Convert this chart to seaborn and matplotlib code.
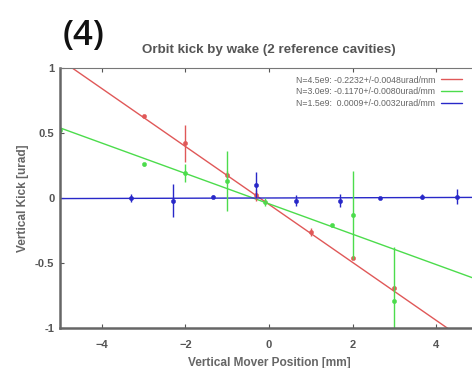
import numpy as np
import pandas as pd
import matplotlib
matplotlib.use("Agg")
import matplotlib.pyplot as plt
import seaborn as sns

# fit results (slope from legend, intercept)
labels = ["N=4.5e9: -0.2232+/-0.0048urad/mm",
          "N=3.0e9: -0.1170+/-0.0080urad/mm",
          "N=1.5e9:  0.0009+/-0.0032urad/mm"]
slopes = [-0.2232, -0.1170, 0.0009]
intercepts = [-0.05, -0.045, 0.0]
colors = ["#e05858", "#4cdc4c", "#2828c8"]

# measured points
red_x = [-3.0, -2.0, -1.0, -0.3, 1.0, 2.0, 3.0]
red_y = [0.63, 0.42, 0.18, 0.02, -0.26, -0.46, -0.69]
red_e = [0.01, 0.14, 0.03, 0.04, 0.03, 0.01, 0.01]

green_x = [-5.0, -3.0, -2.0, -1.0, -0.1, 1.5, 2.0, 3.0]
green_y = [0.52, 0.26, 0.19, 0.13, -0.03, -0.21, -0.13, -0.79]
green_e = [0.01, 0.01, 0.07, 0.23, 0.03, 0.01, 0.34, 0.41]

blue_x = [-3.3, -2.3, -1.35, -0.3, 0.65, 1.7, 2.65, 3.65, 4.5]
blue_y = [0.0, -0.02, 0.01, 0.10, -0.02, -0.02, 0.0, 0.01, 0.01]
blue_e = [0.03, 0.13, 0.01, 0.10, 0.04, 0.05, 0.01, 0.02, 0.06]

sns.set_style("ticks")
plt.rcParams["font.family"] = ["Liberation Sans", "DejaVu Sans"]
fig = plt.figure(figsize=(4.72, 3.68), dpi=100)
ax = fig.add_axes([0.127, 0.109, 0.886, 0.706])

xs = np.array([-5.0, 5.0])
for lab, m, b, c in zip(labels, slopes, intercepts, colors):
    sns.lineplot(x=xs, y=m * xs + b, color=c, lw=1.0, ax=ax, label=lab)

for px, py, pe, c in [(red_x, red_y, red_e, colors[0]),
                      (green_x, green_y, green_e, colors[1]),
                      (blue_x, blue_y, blue_e, colors[2])]:
    ax.errorbar(px, py, yerr=pe, fmt="none", ecolor=c, elinewidth=1.0, capsize=0)
    sns.scatterplot(x=px, y=py, color=c, s=10, marker="o", edgecolor=c, ax=ax)

ax.set_xlim(-5, 5)
ax.set_ylim(-1, 1)
ax.set_xticks([-4, -2, 0, 2, 4])
ax.set_yticks([-1, -0.5, 0, 0.5, 1])
ax.set_yticklabels(["-1", "-0.5", "0", "0.5", "1"])
ax.tick_params(direction="in", length=3, labelsize=8, colors="#555555",
               labelcolor="#555555", top=True, pad=4)
ax.tick_params(axis="x", pad=9)
for t in ax.get_xticklabels() + ax.get_yticklabels():
    t.set_fontweight("bold")
for s in ["left", "bottom"]:
    ax.spines[s].set_linewidth(1.8)
    ax.spines[s].set_color("#666666")
ax.spines["top"].set_linewidth(0.8)
ax.spines["top"].set_color("#777777")
ax.spines["right"].set_visible(False)

ax.set_xlabel("Vertical Mover Position [mm]", fontsize=8.6, color="#666666",
              fontweight="bold", labelpad=5)
ax.set_ylabel("Vertical Kick [urad]", fontsize=8.6, color="#666666",
              fontweight="bold", labelpad=4)

leg = ax.legend(loc="upper right", bbox_to_anchor=(0.975, 0.995), fontsize=6.3,
                frameon=False, markerfirst=False, handlelength=2.4,
                labelspacing=0.3, borderpad=0.2, handletextpad=0.6)
for t in leg.get_texts():
    t.set_color("#666666")

fig.text(0.30, 0.848, "Orbit kick by wake (2 reference cavities)", fontsize=9.6,
         color="#555555", fontweight="bold", va="bottom")
fig.text(0.132, 0.857, "(4)", fontsize=25, color="#111111", fontweight="semibold",
         family="Open Sans", va="bottom")

fig.savefig("out.png", dpi=100)
